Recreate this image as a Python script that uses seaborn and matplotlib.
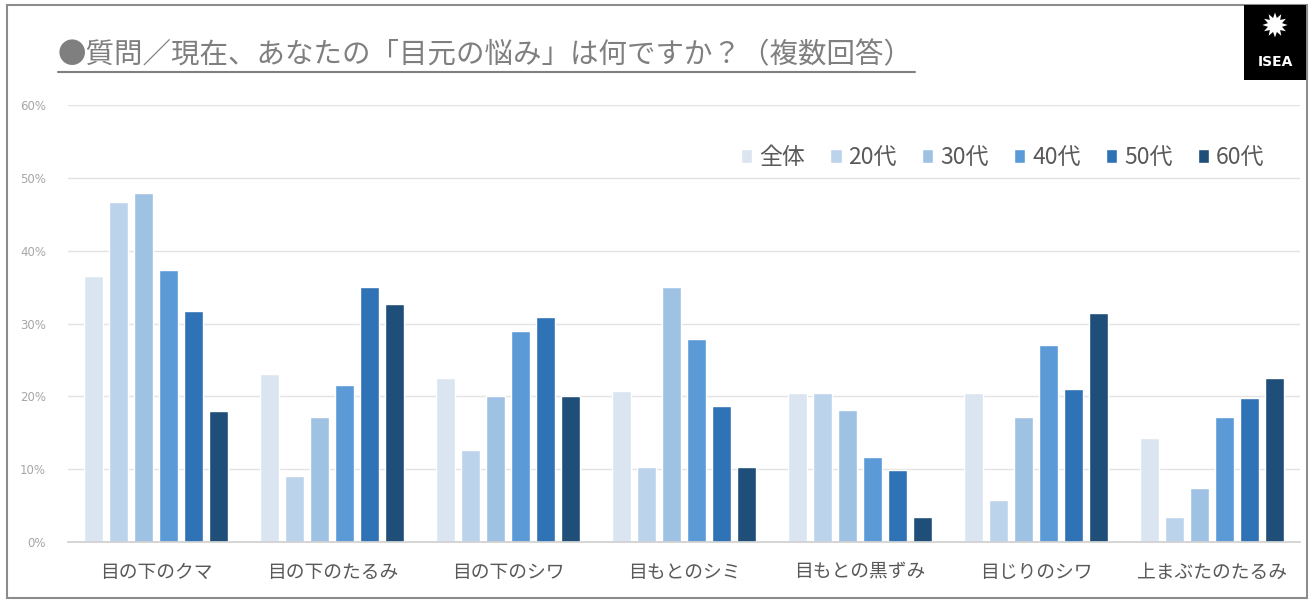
import pandas as pd
import matplotlib.pyplot as plt
import seaborn as sns
from matplotlib.patches import Rectangle
from matplotlib.lines import Line2D

categories = ['目の下のクマ', '目の下のたるみ', '目の下のシワ', '目もとのシミ',
              '目もとの黒ずみ', '目じりのシワ', '上まぶたのたるみ']
groups = ['全体', '20代', '30代', '40代', '50代', '60代']
values = {
    '全体': [36.5, 23.1, 22.5, 20.7, 20.5, 20.5, 14.3],
    '20代': [46.7, 9.1, 12.6, 10.3, 20.5, 5.8, 3.4],
    '30代': [47.9, 17.2, 20.1, 35.0, 18.1, 17.2, 7.4],
    '40代': [37.4, 21.6, 29.0, 27.9, 11.7, 27.1, 17.2],
    '50代': [31.7, 35.0, 30.9, 18.7, 9.9, 21.0, 19.8],
    '60代': [18.0, 32.7, 20.1, 10.3, 3.4, 31.5, 22.5],
}
yticks = [0, 10, 20, 30, 40, 50, 60]
colors = ['#dae5f1', '#bcd3ec', '#9fc1e3', '#5b9ad6', '#2f72b5', '#1f4e79']

rows = []
for g in groups:
    for c, v in zip(categories, values[g]):
        rows.append({'item': c, 'group': g, 'pct': v})
df = pd.DataFrame(rows)

sns.set_theme(style='white')
plt.rcParams['font.family'] = ['Noto Sans CJK JP', 'DejaVu Sans']

fig = plt.figure(figsize=(13.13, 6.01), dpi=100)
ax = fig.add_axes([0.052, 0.098, 0.938, 0.727])

sns.barplot(data=df, x='item', y='pct', hue='group', order=categories,
            hue_order=groups, palette=colors, width=0.85, gap=0.24,
            saturation=1, ax=ax)

ax.set_ylim(0, 60)
ax.set_xlim(-0.5, len(categories) - 0.5)
ax.set_yticks(yticks)
ax.set_yticklabels([f'{t}%' for t in yticks], fontsize=8.5, color='#a6a6a6',
                   family='DejaVu Sans')
ax.tick_params(axis='x', labelsize=13.5, labelcolor='#595959', length=0, pad=14)
ax.tick_params(axis='y', length=0, pad=16)
ax.set_xlabel('')
ax.set_ylabel('')
ax.yaxis.grid(True, color='#e3e3e3', linewidth=1)
ax.set_axisbelow(True)
for s in ['top', 'right', 'left']:
    ax.spines[s].set_visible(False)
ax.spines['bottom'].set_color('#d0d0d0')

ax.legend(ncol=6, loc='center right', bbox_to_anchor=(0.988, 0.88),
          frameon=False, fontsize=16.5, handlelength=0.5, handleheight=0.5,
          handletextpad=0.3, columnspacing=1.1, labelcolor='#595959')

# title
fig.text(58 / 1313, 1 - 55 / 601, '●質問／現在、あなたの「目元の悩み」は何ですか？（複数回答）',
         fontsize=20.5, color='#7f7f7f', va='center', ha='left')
fig.add_artist(Line2D([58 / 1313, 915 / 1313], [1 - 72 / 601, 1 - 72 / 601],
                      color='#7f7f7f', linewidth=1.5))

# frame
fig.add_artist(Rectangle((7 / 1313, 3 / 601), 1300 / 1313, 593 / 601,
                         fill=False, edgecolor='#8c8c8c', linewidth=1.5,
                         transform=fig.transFigure))

# logo
fig.add_artist(Rectangle((1244 / 1313, 1 - 80 / 601), 62 / 1313, 75 / 601,
                         facecolor='black', edgecolor='none',
                         transform=fig.transFigure))
fig.text(1275 / 1313, 1 - 27 / 601, '✹', color='white', fontsize=24,
         ha='center', va='center', family='DejaVu Sans')
fig.text(1275 / 1313, 1 - 62 / 601, 'ISEA', color='white', fontsize=10,
         ha='center', va='center', family='DejaVu Sans', weight='bold')

fig.savefig('out.png', dpi=100)
